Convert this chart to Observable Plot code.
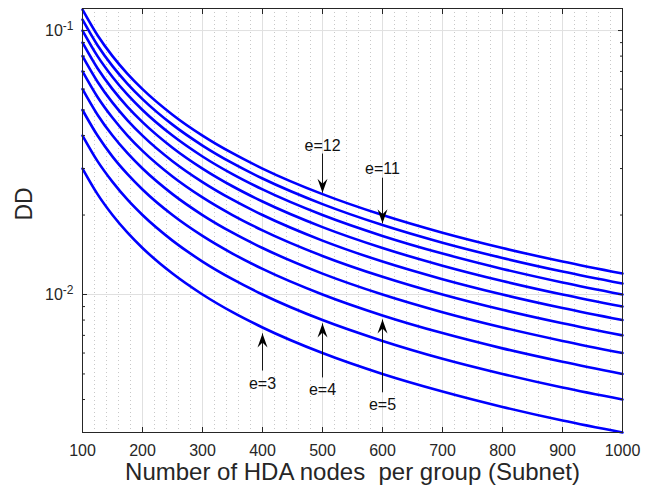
<!DOCTYPE html>
<html>
<head>
<meta charset="utf-8">
<script src="https://cdn.jsdelivr.net/npm/d3@7"></script>
<script src="https://cdn.jsdelivr.net/npm/@observablehq/plot@0.6"></script>
<style>
  html, body { margin: 0; padding: 0; background: #fff; }
  #chart svg { display: block; }
</style>
</head>
<body>
<div id="chart"></div>
<script>
// ---- data ----
const nodes = [100, 125, 150, 175, 200, 250, 300, 350, 400, 500, 600, 700, 800, 900, 1000];
const dd_e3  = [0.030, 0.024, 0.0200, 0.01714, 0.0150, 0.0120, 0.01000, 0.00857, 0.00750, 0.0060, 0.00500, 0.00429, 0.00375, 0.00333, 0.0030];
const dd_e4  = [0.040, 0.032, 0.0267, 0.02286, 0.0200, 0.0160, 0.01333, 0.01143, 0.01000, 0.0080, 0.00667, 0.00571, 0.00500, 0.00444, 0.0040];
const dd_e5  = [0.050, 0.040, 0.0333, 0.02857, 0.0250, 0.0200, 0.01667, 0.01429, 0.01250, 0.0100, 0.00833, 0.00714, 0.00625, 0.00556, 0.0050];
const dd_e6  = [0.060, 0.048, 0.0400, 0.03429, 0.0300, 0.0240, 0.02000, 0.01714, 0.01500, 0.0120, 0.01000, 0.00857, 0.00750, 0.00667, 0.0060];
const dd_e7  = [0.070, 0.056, 0.0467, 0.04000, 0.0350, 0.0280, 0.02333, 0.02000, 0.01750, 0.0140, 0.01167, 0.01000, 0.00875, 0.00778, 0.0070];
const dd_e8  = [0.080, 0.064, 0.0533, 0.04571, 0.0400, 0.0320, 0.02667, 0.02286, 0.02000, 0.0160, 0.01333, 0.01143, 0.01000, 0.00889, 0.0080];
const dd_e9  = [0.090, 0.072, 0.0600, 0.05143, 0.0450, 0.0360, 0.03000, 0.02571, 0.02250, 0.0180, 0.01500, 0.01286, 0.01125, 0.01000, 0.0090];
const dd_e10 = [0.100, 0.080, 0.0667, 0.05714, 0.0500, 0.0400, 0.03333, 0.02857, 0.02500, 0.0200, 0.01667, 0.01429, 0.01250, 0.01111, 0.0100];
const dd_e11 = [0.110, 0.088, 0.0733, 0.06286, 0.0550, 0.0440, 0.03667, 0.03143, 0.02750, 0.0220, 0.01833, 0.01571, 0.01375, 0.01222, 0.0110];
const dd_e12 = [0.120, 0.096, 0.0800, 0.06857, 0.0600, 0.0480, 0.04000, 0.03429, 0.03000, 0.0240, 0.02000, 0.01714, 0.01500, 0.01333, 0.0120];
const seriesNames = ["e=3","e=4","e=5","e=6","e=7","e=8","e=9","e=10","e=11","e=12"];
const seriesValues = [dd_e3, dd_e4, dd_e5, dd_e6, dd_e7, dd_e8, dd_e9, dd_e10, dd_e11, dd_e12];

const xTicks = [100, 200, 300, 400, 500, 600, 700, 800, 900, 1000];
const xMinor = d3.range(120, 1000, 20).filter(v => v % 100 !== 0);
const yTicks = [0.01, 0.1];
const yMinor = [0.003,0.004,0.005,0.006,0.007,0.008,0.009,0.02,0.03,0.04,0.05,0.06,0.07,0.08,0.09];

// annotations (label, x, text y, arrow tail y, arrow tip y)
const annLabels = ["e=12", "e=11", "e=3", "e=4", "e=5"];
const annX      = [500, 600, 400, 500, 600];
const annTextY  = [0.0367, 0.0300, 0.00460, 0.00437, 0.00383];
const annTailY  = [0.0342, 0.0277, 0.00515, 0.00485, 0.00426];
const annTipY   = [0.0243, 0.0186, 0.00712, 0.00777, 0.00804];

// ---- build tables ----
const lines = seriesNames.flatMap((name, i) => nodes.map((n, j) => ({series: name, n, dd: seriesValues[i][j]})));
const ann = annLabels.map((label, i) => ({label, x: annX[i], ty: annTextY[i], tail: annTailY[i], tip: annTipY[i], down: annTipY[i] < annTailY[i]}));

const headDown = {draw(ctx) { ctx.moveTo(0, 0); ctx.lineTo(-5, -14); ctx.lineTo(0, -9); ctx.lineTo(5, -14); ctx.closePath(); }};
const headUp   = {draw(ctx) { ctx.moveTo(0, 0); ctx.lineTo(-5, 14); ctx.lineTo(0, 9); ctx.lineTo(5, 14); ctx.closePath(); }};

const axisColor = "#262626";
const font = "'Liberation Sans', Arial, Helvetica, sans-serif";
const none = () => "";

const plot = Plot.plot({
  width: 656,
  height: 495,
  marginLeft: 82,
  marginRight: 34,
  marginTop: 8,
  marginBottom: 63,
  style: {fontFamily: font, background: "#fff"},
  x: {domain: [100, 1000]},
  y: {type: "log", domain: [0.003, 0.1212]},
  marks: [
    Plot.ruleX(xMinor, {stroke: "#c8c8c8", strokeDasharray: "1,3", strokeWidth: 1}),
    Plot.gridX(xTicks, {stroke: "#e0e0e0", strokeOpacity: 1, strokeWidth: 1}),
    Plot.gridY(yTicks, {stroke: "#e0e0e0", strokeOpacity: 1, strokeWidth: 1}),
    Plot.line(lines, {x: "n", y: "dd", z: "series", stroke: "#0000ff", strokeWidth: 2.6, curve: "monotone-x"}),
    // annotations
    Plot.link(ann, {x1: "x", x2: "x", y1: "tail", y2: "tip", stroke: "#000", strokeWidth: 0.9}),
    Plot.dot(ann.filter(d => d.down), {x: "x", y: "tip", symbol: headDown, fill: "#000", stroke: "none"}),
    Plot.dot(ann.filter(d => !d.down), {x: "x", y: "tip", symbol: headUp, fill: "#000", stroke: "none"}),
    Plot.text(ann, {x: "x", y: "ty", text: "label", fontSize: 16, fill: "#111"}),
    // frame and inward ticks
    Plot.frame({stroke: axisColor, strokeWidth: 1}),
    Plot.axisX(xTicks, {anchor: "bottom", tickSize: -5, tickFormat: none, stroke: axisColor, label: null}),
    Plot.axisX(xTicks, {anchor: "top", tickSize: -5, tickFormat: none, stroke: axisColor, label: null}),
    Plot.axisX(xTicks, {anchor: "bottom", tickSize: 0, tickPadding: 12, fontSize: 16, fill: axisColor, label: null, tickFormat: d => String(d)}),
    Plot.axisY(yTicks, {anchor: "left", tickSize: -5, tickFormat: none, stroke: axisColor, label: null}),
    Plot.axisY(yTicks, {anchor: "right", tickSize: -5, tickFormat: none, stroke: axisColor, label: null}),
    Plot.axisY(yMinor, {anchor: "left", tickSize: -3, tickFormat: none, stroke: axisColor, label: null}),
    Plot.axisY(yMinor, {anchor: "right", tickSize: -3, tickFormat: none, stroke: axisColor, label: null}),
    Plot.axisY(yTicks, {anchor: "left", tickSize: 0, tickPadding: 9, fontSize: 16, fill: axisColor, label: null, tickFormat: d => "10^" + Math.round(Math.log10(d))}),
    Plot.text(["Number of HDA nodes\u00a0 per group (Subnet)"], {frameAnchor: "bottom", dy: 47, fontSize: 24, fill: axisColor}),
    Plot.text(["DD"], {frameAnchor: "left", dx: -58, rotate: -90, fontSize: 23, fill: axisColor})
  ]
});

// superscript exponents on the y tick labels
d3.select(plot).selectAll("text").each(function() {
  const t = this.textContent;
  const m = /^10\^(-?\d+)$/.exec(t);
  if (m) {
    const sel = d3.select(this);
    sel.text(null);
    sel.append("tspan").text("10");
    sel.append("tspan").attr("dy", "-0.45em").attr("font-size", "12px").text(m[1]);
  }
});
// drop empty tick-label texts
d3.select(plot).selectAll("text").filter(function() { return this.textContent === ""; }).remove();

document.getElementById("chart").appendChild(plot);
</script>
</body>
</html>
